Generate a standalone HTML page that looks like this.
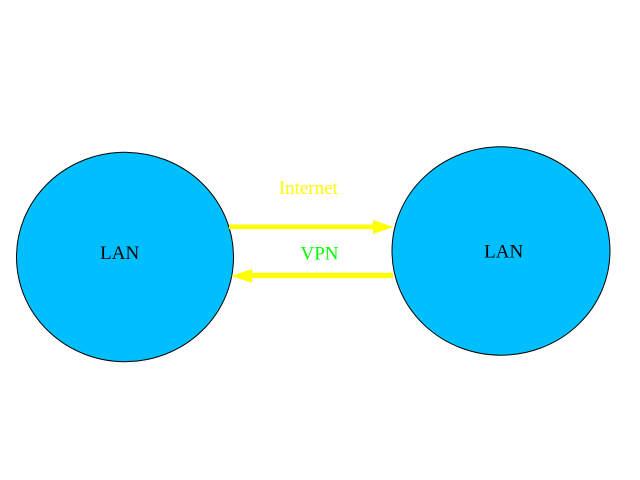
<!DOCTYPE html>
<html>
<head>
<meta charset="utf-8">
<style>
html,body{margin:0;padding:0;background:#fff;}
svg{display:block;}
text{font-family:"Liberation Serif",serif;font-size:19px;}
</style>
</head>
<body>
<svg width="640" height="480" viewBox="0 0 640 480" xmlns="http://www.w3.org/2000/svg">
<rect width="640" height="480" fill="#fff"/>
<ellipse cx="125" cy="257" rx="108.5" ry="104.7" fill="#00BFFF" stroke="#000" stroke-width="1"/>
<ellipse cx="501" cy="251" rx="109" ry="104.2" fill="#00BFFF" stroke="#000" stroke-width="1"/>
<!-- top arrow -->
<line x1="229" y1="226.8" x2="375" y2="226.8" stroke="#FFFF00" stroke-width="4.6"/>
<polygon points="373,220 393.5,227 373,234" fill="#FFFF00"/>
<!-- bottom arrow -->
<line x1="393" y1="275.4" x2="250" y2="275.4" stroke="#FFFF00" stroke-width="5.4"/>
<polygon points="252,269 231,276 252,282.7" fill="#FFFF00"/>
<text x="308.3" y="194" fill="#FFFF00" text-anchor="middle">Internet</text>
<text x="319.5" y="259.5" fill="#00FF00" text-anchor="middle">VPN</text>
<text x="119.7" y="259" fill="#000" text-anchor="middle">LAN</text>
<text x="503.7" y="257.7" fill="#000" text-anchor="middle">LAN</text>
</svg>
</body>
</html>
